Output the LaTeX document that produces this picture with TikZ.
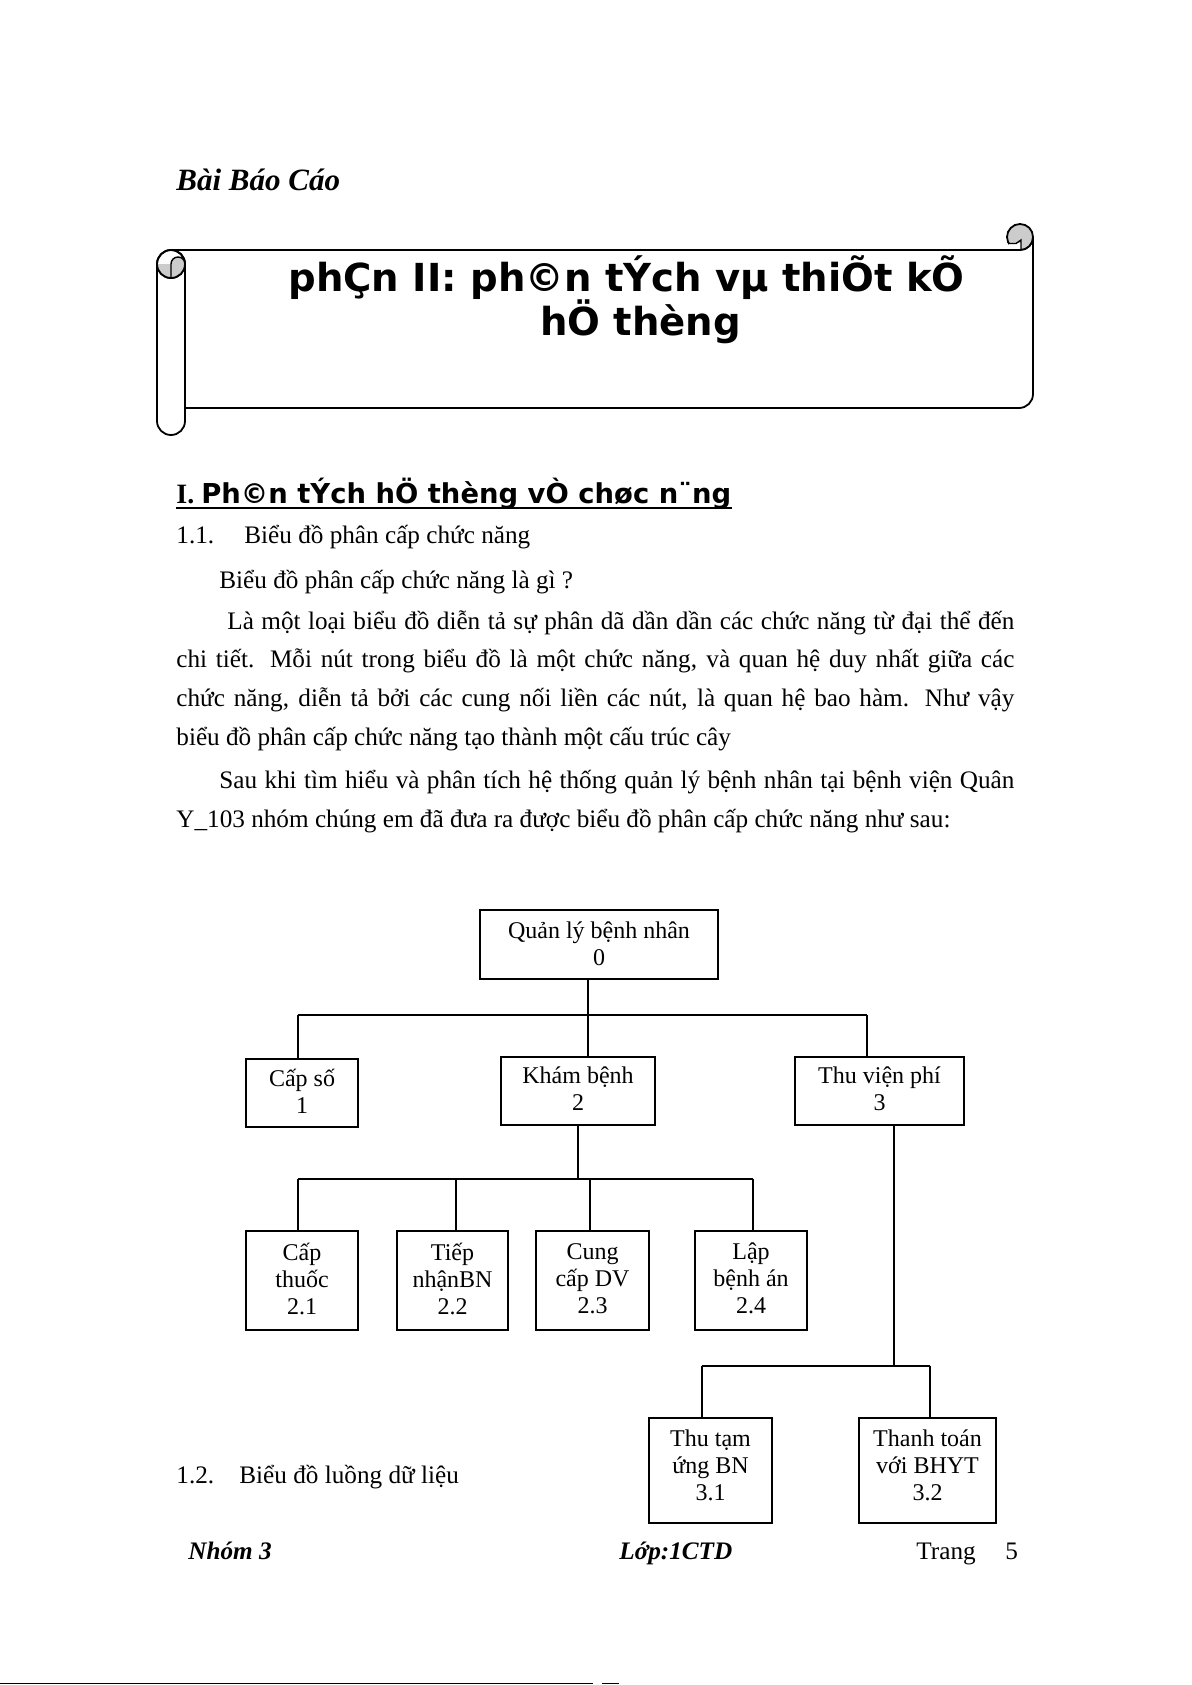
\documentclass[tikz,border=0pt]{standalone}
\usepackage{fontspec}
\setmainfont{Liberation Serif}
\newfontfamily\vnsans{DejaVu Sans}
\usetikzlibrary{positioning}

\begin{document}
\begin{tikzpicture}[x=0.5pt, y=-0.5pt,
    chu/.style={inner sep=0pt, anchor=base west, font=\fontsize{12.6}{15}\selectfont},
    khoi/.style={draw, line width=1pt, align=center, inner sep=0pt, font=\fontsize{12}{13.5}\selectfont,
      execute at end node={\rule[-#1]{0pt}{0pt}}},
    khoi/.default=2pt,
    nhanh/.style={line width=1pt},
    manh/.style={line width=0.6pt}]
  \useasboundingbox (0,0) rectangle (1191,1685);
  \fill[white] (0,0) rectangle (1191,1685);

  \node[chu, font=\fontsize{15.5}{18}\selectfont\bfseries\itshape] (baocao) at (176,191) {Bài Báo Cáo};

  % Scroll banner
  \draw[line width=0.9pt, fill=white] (171,250) -- (1020,250) arc(90:0:13) -- (1033,394) arc(0:90:14) -- (185,408);
  \draw[line width=0.9pt, fill=gray!40] (1020,237) circle[radius=13];
  \fill[white] (1009,243.5) rectangle (1021,250);
  \draw[line width=0.7pt] (1008.5,243.5) -- (1016,243.5) -- (1021,240) -- (1021,250);
  \draw[line width=0.9pt] (1005,250) -- (1021,250);
  \draw[line width=0.9pt, fill=white] (157,264) -- (157,421) arc(180:0:14) -- (185,264);
  \draw[line width=0.9pt, fill=white] (171,264) circle[radius=14];
  \fill[gray!40] (157,264) arc(180:0:14) arc(360:180:7) -- cycle;
  \draw[line width=0.7pt] (171,278) -- (171,264) arc(180:360:7);
  \draw[line width=0.9pt] (171,264) circle[radius=14];

  \node[inner sep=0pt, anchor=base, font=\vnsans\bfseries\fontsize{19.3}{23}\selectfont] (tua1) at (626.5,292) {phÇn II: ph©n tÝch vµ thiÕt kÕ};
  \node[inner sep=0pt, anchor=base, font=\vnsans\bfseries\fontsize{19.3}{23}\selectfont] (tua2) at (640.5,335) {hÖ thèng};

  % Text
  \node[chu, font=\fontsize{14}{16}\selectfont\bfseries] (muc1) at (176,503) {I. {\vnsans\fontsize{13.7}{16}\selectfont Ph©n tÝch hÖ thèng vÒ chøc n¨ng}};
  \draw[line width=0.9pt] ([yshift=-2.5pt]muc1.base west) -- ([yshift=-2.5pt]muc1.base east);
  \node[chu] (muc11) at (176,543) {\makebox[34pt][l]{1.1.}Biểu đồ phân cấp chức năng};
  \node[chu] (hoi) at (219,588) {Biểu đồ phân cấp chức năng là gì ?};
  \node[chu] (dong1) at (227,629) {\makebox[393.5pt][s]{Là một loại biểu đồ diễn tả sự phân dã dần dần các chức năng từ đại thể đến}};
  \node[chu] (dong2) at (176,667.5) {\makebox[419pt][s]{chi tiết. Mỗi nút trong biểu đồ là một chức năng, và quan hệ duy nhất giữa các}};
  \node[chu] (dong3) at (176,706) {\makebox[419pt][s]{chức năng, diễn tả bởi các cung nối liền các nút, là quan hệ bao hàm. Như vậy}};
  \node[chu] (dong4) at (176,745) {biểu đồ phân cấp chức năng tạo thành một cấu trúc cây};
  \node[chu] (dong5) at (219,788) {\makebox[397.5pt][s]{Sau khi tìm hiểu và phân tích hệ thống quản lý bệnh nhân tại bệnh viện Quân}};
  \node[chu] (dong6) at (176,827) {Y\_103 nhóm chúng em đã đưa ra được biểu đồ phân cấp chức năng như sau:};
  \node[chu] (muc12) at (176,1483) {\makebox[31.5pt][l]{1.2.}Biểu đồ luồng dữ liệu};

  % Boxes
  \node[khoi=1pt, minimum width=119pt, minimum height=34.5pt] (n0) at (599,944.5) {Quản lý bệnh nhân\\0};
  \node[khoi, minimum width=56pt, minimum height=34pt] (n1) at (302,1093) {Cấp số\\1};
  \node[khoi, minimum width=77pt, minimum height=34pt] (n2) at (578,1091) {Khám bệnh\\2};
  \node[khoi, minimum width=84.5pt, minimum height=34pt] (n3) at (879.5,1091) {Thu viện phí\\3};
  \node[khoi, minimum width=56pt, minimum height=49.5pt] (n21) at (302,1280.5) {Cấp\\thuốc\\2.1};
  \node[khoi, minimum width=55.5pt, minimum height=49.5pt] (n22) at (452.5,1280.5) {Tiếp\\nhậnBN\\2.2};
  \node[khoi, minimum width=56.5pt, minimum height=49.5pt] (n23) at (592.5,1280.5) {Cung\\cấp DV\\2.3};
  \node[khoi, minimum width=56pt, minimum height=49.5pt] (n24) at (751,1280.5) {Lập\\bệnh án\\2.4};
  \node[khoi=5.4pt, minimum width=61.5pt, minimum height=52.5pt] (n31) at (710.5,1470.5) {Thu tạm\\ứng BN\\3.1};
  \node[khoi=5.4pt, minimum width=68.5pt, minimum height=52.5pt] (n32) at (927.5,1470.5) {Thanh toán\\với BHYT\\3.2};

  \coordinate (r0) at (588,1015);
  \coordinate (r1) at (298,1015);
  \coordinate (r3) at (867,1015);
  \coordinate (k0) at (578,1179);
  \coordinate (k1) at (298,1179);
  \coordinate (k2) at (456,1179);
  \coordinate (k3) at (590,1179);
  \coordinate (k4) at (753,1179);
  \coordinate (t0) at (894,1366);
  \coordinate (t1) at (702,1366);
  \coordinate (t2) at (930,1366);

  % Level 1
  \draw[nhanh] (r1) -- (r3);
  \draw[nhanh] (n0.south -| r0) -- (n2.north -| r0);
  \draw[manh] (r1) -- (n1.north -| r1);
  \draw[manh] (r3) -- (n3.north -| r3);

  % Level 2
  \draw[nhanh] (k1) -- (k4);
  \draw[nhanh] (n2.south -| k0) -- (k0);
  \foreach \i in {1,...,4}
    \draw[manh] (k\i) -- (n2\i.north -| k\i);

  % Level 3
  \draw[nhanh] (t1) -- (t2);
  \draw[manh] (n3.south -| t0) -- (t0);
  \draw[manh] (t1) -- (n31.north -| t1);
  \draw[manh] (t2) -- (n32.north -| t2);

  % Footer
  \node[chu, font=\fontsize{12.6}{15}\selectfont\bfseries\itshape] (nhom) at (188,1559) {Nhóm 3};
  \node[chu, font=\fontsize{12.6}{15}\selectfont\bfseries\itshape] (lop) at (619,1559) {Lớp:1CTD};
  \node[chu] (trang) at (916,1559) {Trang};
  \node[chu] (so) at (1005,1559) {5};
  \draw[line width=0.8pt] (0,1683.5) -- (593,1683.5);
  \draw[line width=0.8pt] (602,1683.5) -- (619,1683.5);
\end{tikzpicture}
\end{document}
